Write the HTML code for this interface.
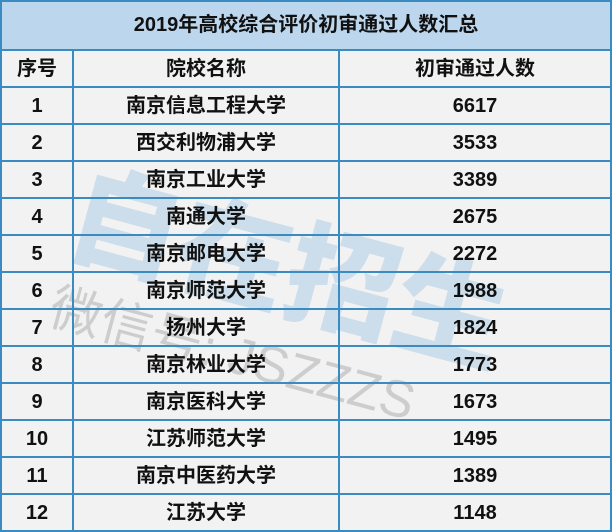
<!DOCTYPE html>
<html><head><meta charset="utf-8"><style>
body{margin:0;width:612px;height:532px;overflow:hidden;background:#f2f2f2;font-family:"Liberation Sans","Noto Sans CJK SC",sans-serif;position:relative}
.h{position:absolute;left:0;width:612px;height:2px;background:#3a8cc0}
.v{position:absolute;top:0;width:2px;height:532px;background:#3a8cc0}
.c{position:absolute;font-weight:bold;font-size:20px;color:#111;text-align:center;height:37px;line-height:37px}
.wm{position:absolute;font-family:"Noto Sans CJK SC",sans-serif;white-space:nowrap}
</style></head><body>
<div style="position:absolute;left:0;top:0;width:612px;height:50px;background:#bcd6ee"></div>
<div class="wm" style="left:95px;top:125px;font-size:112px;font-weight:900;color:rgba(70,150,210,0.22);transform:rotate(15deg);transform-origin:left top">自在招生</div>
<div class="wm" style="left:62px;top:265px;font-size:52px;color:rgba(120,120,120,0.3);transform:rotate(15deg);transform-origin:left top;font-family:'Liberation Sans','Noto Sans CJK SC',sans-serif">微信号: JSZZZS</div>
<div class="h" style="top:0"></div><div class="h" style="top:49px"></div>
<div class="h" style="top:86px"></div><div class="h" style="top:123px"></div><div class="h" style="top:160px"></div><div class="h" style="top:197px"></div><div class="h" style="top:234px"></div><div class="h" style="top:271px"></div><div class="h" style="top:308px"></div><div class="h" style="top:345px"></div><div class="h" style="top:382px"></div><div class="h" style="top:419px"></div><div class="h" style="top:456px"></div><div class="h" style="top:493px"></div><div class="h" style="top:530px"></div>
<div class="v" style="left:0"></div><div class="v" style="left:610px"></div>
<div class="v" style="left:72px;top:50px;height:482px"></div><div class="v" style="left:338px;top:50px;height:482px"></div>
<div class="c" style="left:0;width:612px;top:2px;height:46px;line-height:46px;font-size:20px">2019年高校综合评价初审通过人数汇总</div>
<div id="rows"></div>
<script>
var d=[["序号","院校名称","初审通过人数"],["1","南京信息工程大学","6617"],["2","西交利物浦大学","3533"],["3","南京工业大学","3389"],["4","南通大学","2675"],["5","南京邮电大学","2272"],["6","南京师范大学","1988"],["7","扬州大学","1824"],["8","南京林业大学","1773"],["9","南京医科大学","1673"],["10","江苏师范大学","1495"],["11","南京中医药大学","1389"],["12","江苏大学","1148"]];
var h="";d.forEach(function(r,i){var t=51+i*37;h+='<div class="c" style="left:2px;width:70px;top:'+t+'px">'+r[0]+'</div><div class="c" style="left:74px;width:264px;top:'+t+'px">'+r[1]+'</div><div class="c" style="left:340px;width:270px;top:'+t+'px">'+r[2]+'</div>';});
document.getElementById("rows").innerHTML=h;
</script>
</body></html>
